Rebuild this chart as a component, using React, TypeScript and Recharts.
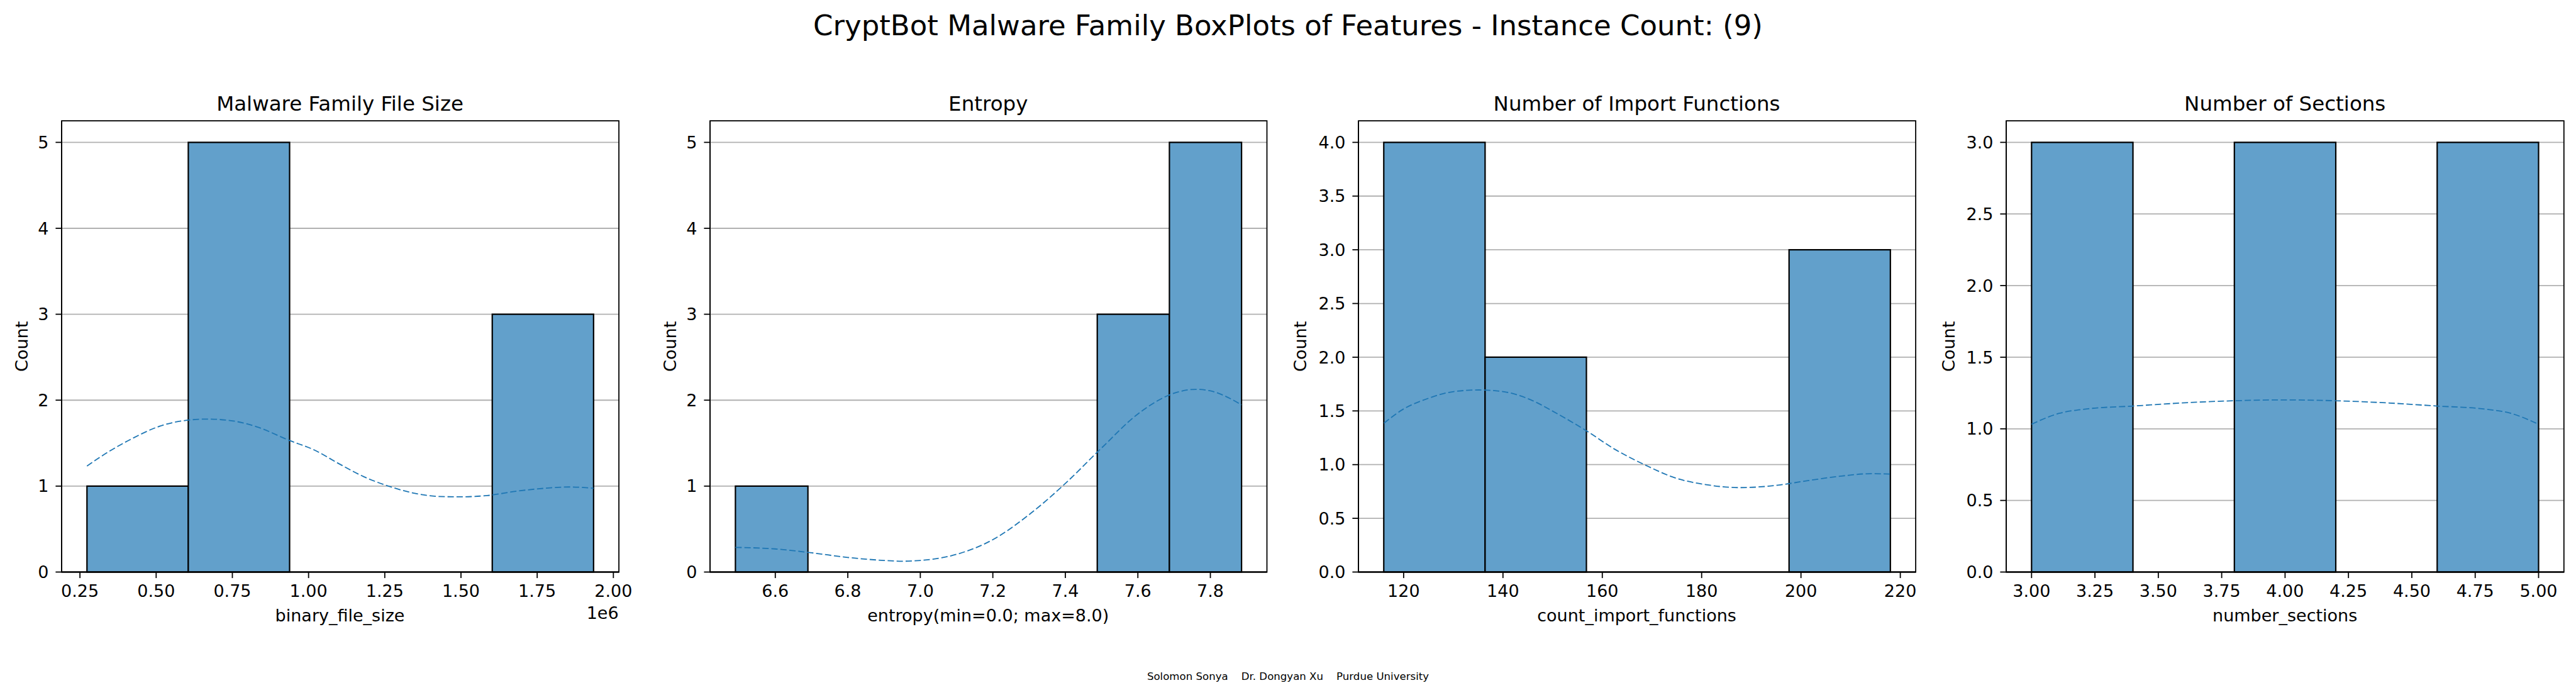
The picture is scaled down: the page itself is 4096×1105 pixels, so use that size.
import { ComposedChart, XAxis, YAxis, CartesianGrid, ReferenceArea, Line } from "recharts";

// ---- data ----
const sizeBinEdges = [273000, 605400, 937800, 1270200, 1602600, 1935000];
const sizeCounts = [1, 5, 0, 0, 3];
const sizeKdeX = [
  273000, 344000, 425000, 506000, 587000, 668000, 749000, 830000, 938000, 1019000, 1100000,
  1181000, 1262000, 1343000, 1424000, 1491000, 1586000, 1680000, 1775000, 1856000, 1935000,
];
const sizeKdeY = [
  1.234, 1.4, 1.56, 1.69, 1.76, 1.78, 1.76, 1.69, 1.53, 1.42, 1.26, 1.11, 1.0, 0.92, 0.88, 0.875,
  0.89, 0.94, 0.975, 0.99, 0.975,
];
const sizeXTicks = [250000, 500000, 750000, 1000000, 1250000, 1500000, 1750000, 2000000];
const sizeYTicks = [0, 1, 2, 3, 4, 5];

const entropyBinEdges = [6.49, 6.69, 6.889, 7.089, 7.288, 7.488, 7.687, 7.886];
const entropyCounts = [1, 0, 0, 0, 0, 3, 5];
const entropyKdeX = [6.49, 6.6, 6.7, 6.8, 6.9, 6.95, 7.0, 7.1, 7.2, 7.3, 7.4, 7.5, 7.6, 7.7, 7.76, 7.8, 7.886];
const entropyKdeY = [
  0.287, 0.269, 0.224, 0.17, 0.135, 0.126, 0.135, 0.206, 0.377, 0.668, 1.031, 1.444, 1.839, 2.081,
  2.126, 2.108, 1.946,
];
const entropyXTicks = [6.6, 6.8, 7.0, 7.2, 7.4, 7.6, 7.8];
const entropyYTicks = [0, 1, 2, 3, 4, 5];

const importBinEdges = [116, 136.4, 156.8, 177.2, 197.6, 218];
const importCounts = [4, 2, 0, 0, 3];
const importKdeX = [
  116.05, 119.7, 124.9, 130.1, 135.2, 140.4, 145.5, 150.7, 156.7, 162.7, 168.7, 174.7, 180.7,
  187.6, 194.5, 201.4, 208.2, 214.2, 217.9,
];
const importKdeY = [
  1.386, 1.51, 1.616, 1.68, 1.695, 1.677, 1.605, 1.48, 1.318, 1.138, 0.995, 0.876, 0.815, 0.786,
  0.804, 0.851, 0.894, 0.916, 0.912,
];
const importXTicks = [120, 140, 160, 180, 200, 220];
const importYTicks = [0, 0.5, 1, 1.5, 2, 2.5, 3, 3.5, 4];

const sectionBinEdges = [3.0, 3.4, 3.8, 4.2, 4.6, 5.0];
const sectionCounts = [3, 0, 3, 0, 3];
const sectionKdeX = [3.0, 3.109, 3.224, 3.4, 3.587, 3.8, 4.0, 4.198, 4.413, 4.6, 4.776, 4.891, 5.0];
const sectionKdeY = [1.032, 1.108, 1.14, 1.159, 1.18, 1.196, 1.202, 1.196, 1.18, 1.159, 1.14, 1.108, 1.032];
const sectionXTicks = [3.0, 3.25, 3.5, 3.75, 4.0, 4.25, 4.5, 4.75, 5.0];
const sectionYTicks = [0, 0.5, 1, 1.5, 2, 2.5, 3];

// ---- layout ----
const W = 4096;
const H = 1105;
const PLOT_TOP = 192.2;
const PLOT_BOTTOM = 909.5;
const Y_AXIS_W = 130;
const X_AXIS_H = 60;
const RIGHT_PAD = 50; // room for the last x tick label
const FONT = "DejaVu Sans";
const BAR_FILL = "#62a0cb";
const LINE_BLUE = "#1f77b4";

const panels = [
  {
    title: "Malware Family File Size",
    xlabel: "binary_file_size",
    offsetText: "1e6",
    left: 97.5,
    right: 983.6,
    ylabelGap: 53,
    edges: sizeBinEdges,
    counts: sizeCounts,
    kdeX: sizeKdeX,
    kdeY: sizeKdeY,
    xTicks: sizeXTicks,
    yTicks: sizeYTicks,
    xDomain: [189900, 2018100],
    yMax: 5.25,
    fmtX: (v: number) => (v / 1e6).toFixed(2),
    fmtY: (v: number) => String(v),
  },
  {
    title: "Entropy",
    xlabel: "entropy(min=0.0; max=8.0)",
    offsetText: "",
    left: 1128.5,
    right: 2014.0,
    ylabelGap: 53,
    edges: entropyBinEdges,
    counts: entropyCounts,
    kdeX: entropyKdeX,
    kdeY: entropyKdeY,
    xTicks: entropyXTicks,
    yTicks: entropyYTicks,
    xDomain: [6.42, 7.956],
    yMax: 5.25,
    fmtX: (v: number) => v.toFixed(1),
    fmtY: (v: number) => String(v),
  },
  {
    title: "Number of Import Functions",
    xlabel: "count_import_functions",
    offsetText: "",
    left: 2159.5,
    right: 3045.6,
    ylabelGap: 82,
    edges: importBinEdges,
    counts: importCounts,
    kdeX: importKdeX,
    kdeY: importKdeY,
    xTicks: importXTicks,
    yTicks: importYTicks,
    xDomain: [110.9, 223.1],
    yMax: 4.2,
    fmtX: (v: number) => String(v),
    fmtY: (v: number) => v.toFixed(1),
  },
  {
    title: "Number of Sections",
    xlabel: "number_sections",
    offsetText: "",
    left: 3189.8,
    right: 4076.6,
    ylabelGap: 81.4,
    edges: sectionBinEdges,
    counts: sectionCounts,
    kdeX: sectionKdeX,
    kdeY: sectionKdeY,
    xTicks: sectionXTicks,
    yTicks: sectionYTicks,
    xDomain: [2.9, 5.1],
    yMax: 3.15,
    fmtX: (v: number) => v.toFixed(2),
    fmtY: (v: number) => v.toFixed(1),
  },
];

type Panel = (typeof panels)[number];

const tickStyle = { fontSize: 27, fill: "#000", fontFamily: FONT };

function Histogram({ p }: { p: Panel }) {
  const data = p.kdeX.map((x, i) => ({ x, y: p.kdeY[i] }));
  const plotW = p.right - p.left;
  const chartW = plotW + Y_AXIS_W + RIGHT_PAD;
  return (
    <div style={{ position: "absolute", left: p.left - Y_AXIS_W, top: 0 }}>
      <ComposedChart
        width={chartW}
        height={H}
        data={data}
        margin={{ top: PLOT_TOP, right: RIGHT_PAD, bottom: H - PLOT_BOTTOM - X_AXIS_H, left: 0 }}
      >
        <CartesianGrid vertical={false} stroke="#b0b0b0" strokeWidth={1.8} />
        <XAxis
          type="number"
          dataKey="x"
          domain={p.xDomain}
          ticks={p.xTicks}
          interval={0}
          allowDataOverflow
          height={X_AXIS_H}
          tickFormatter={p.fmtX}
          tick={tickStyle}
          tickSize={9.6}
          tickMargin={11}
          stroke="#000"
          strokeWidth={1.8}
        />
        <YAxis
          type="number"
          domain={[0, p.yMax]}
          ticks={p.yTicks}
          interval={0}
          allowDataOverflow
          width={Y_AXIS_W}
          tickFormatter={p.fmtY}
          tick={tickStyle}
          tickSize={9.6}
          tickMargin={11}
          stroke="#000"
          strokeWidth={1.8}
        />
        {p.counts.map((c, i) => (
          <ReferenceArea
            key={i}
            x1={p.edges[i]}
            x2={p.edges[i + 1]}
            y1={0}
            y2={c}
            fill={BAR_FILL}
            fillOpacity={1}
            stroke="#000"
            strokeWidth={2.2}
            ifOverflow="visible"
          />
        ))}
        <ReferenceArea
          x1={p.xDomain[0]}
          x2={p.xDomain[1]}
          y1={0}
          y2={p.yMax}
          fill="none"
          stroke="#000"
          strokeWidth={1.8}
          ifOverflow="visible"
        />
        <Line
          type="monotone"
          dataKey="y"
          stroke={LINE_BLUE}
          strokeWidth={1.8}
          strokeDasharray="10 4.3"
          dot={false}
          activeDot={false}
          isAnimationActive={false}
        />
      </ComposedChart>
    </div>
  );
}

export default function App() {
  const midY = (PLOT_TOP + PLOT_BOTTOM) / 2;
  return (
    <div
      style={{
        position: "absolute",
        left: 0,
        top: 0,
        width: W,
        height: H,
        background: "#fff",
        overflow: "hidden",
        fontFamily: FONT,
      }}
    >
      {panels.map((p, i) => (
        <Histogram key={i} p={p} />
      ))}
      <svg
        width={W}
        height={H}
        style={{ position: "absolute", left: 0, top: 0, pointerEvents: "none" }}
        fontFamily={FONT}
      >
        <text x={W / 2} y={56} fontSize={45} textAnchor="middle" fill="#000">
          CryptBot Malware Family BoxPlots of Features - Instance Count: (9)
        </text>
        {panels.map((p, i) => {
          const cx = (p.left + p.right) / 2;
          const lx = p.left - p.ylabelGap;
          return (
            <g key={i}>
              <text x={cx} y={176.4} fontSize={32.5} textAnchor="middle" fill="#000">
                {p.title}
              </text>
              <text x={cx} y={988} fontSize={27} textAnchor="middle" fill="#000">
                {p.xlabel}
              </text>
              {p.offsetText && (
                <text x={p.right} y={984} fontSize={27} textAnchor="end" fill="#000">
                  {p.offsetText}
                </text>
              )}
              <text
                x={lx}
                y={midY}
                fontSize={27}
                textAnchor="middle"
                fill="#000"
                transform={`rotate(-90 ${lx} ${midY})`}
              >
                Count
              </text>
            </g>
          );
        })}
        <text
          x={W / 2}
          y={1081}
          fontSize={16.6}
          textAnchor="middle"
          fill="#000"
          style={{ whiteSpace: "pre" }}
        >
          {"Solomon Sonya    Dr. Dongyan Xu    Purdue University"}
        </text>
      </svg>
    </div>
  );
}
